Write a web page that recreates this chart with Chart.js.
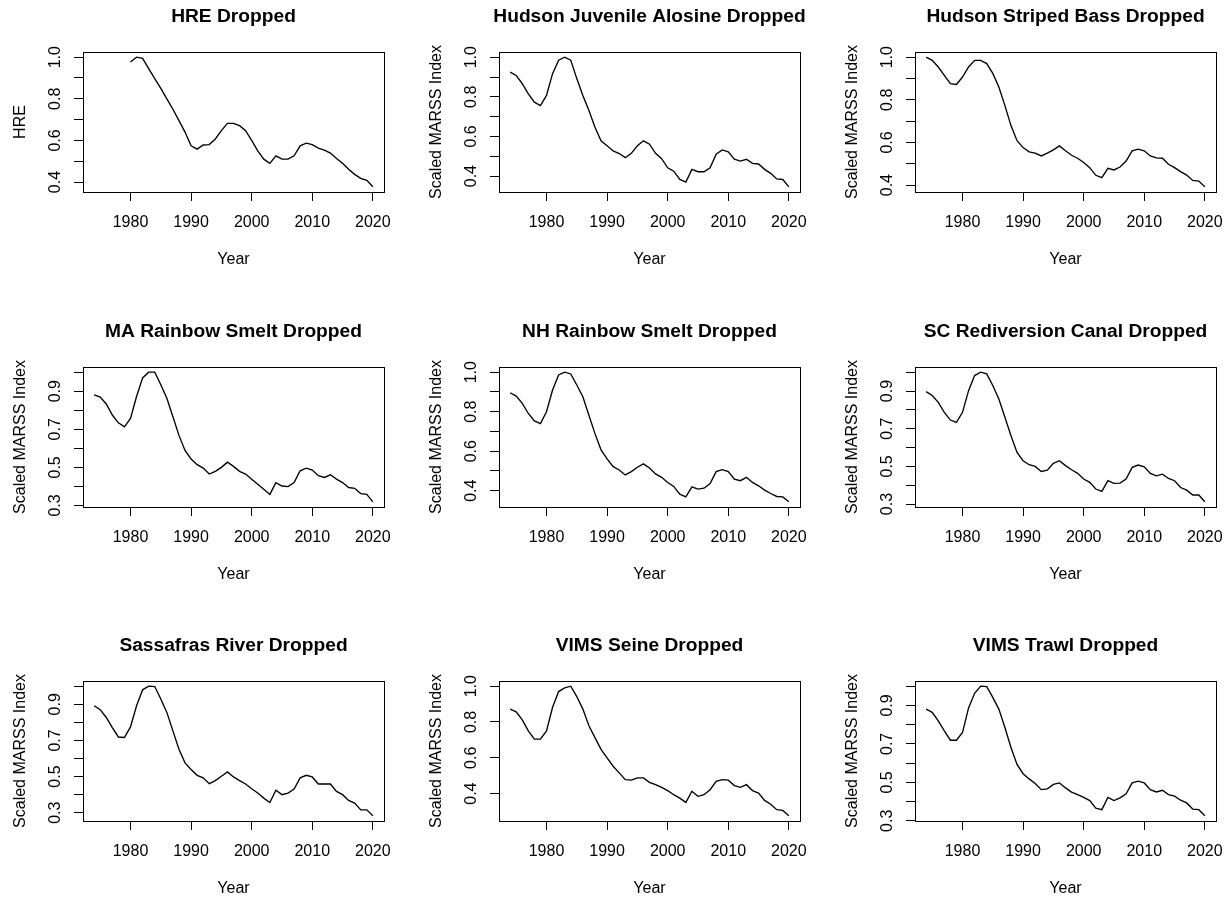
<!DOCTYPE html>
<html>
<head>
<meta charset="utf-8">
<script src="https://cdn.jsdelivr.net/npm/chart.js@4.4.1/dist/chart.umd.min.js"></script>
<style>
html,body{margin:0;padding:0;background:#fff;overflow:hidden;width:1228px;height:898px;position:relative;}
canvas{position:absolute;}
</style>
</head>
<body>
<script>
// ---------- data ----------
const years = [1974,1975,1976,1977,1978,1979,1980,1981,1982,1983,1984,1985,1986,1987,1988,1989,1990,1991,1992,1993,1994,1995,1996,1997,1998,1999,2000,2001,2002,2003,2004,2005,2006,2007,2008,2009,2010,2011,2012,2013,2014,2015,2016,2017,2018,2019,2020];

const hre = [null,null,null,null,null,null,0.977,1.0,0.994,0.945,
  0.897,0.85,0.80,0.75,0.695,0.64,0.574,0.558,0.578,0.58,
  0.607,0.647,0.682,0.682,0.671,0.647,0.60,0.55,0.51,0.49,
  0.526,0.51,0.51,0.526,0.574,0.587,0.58,0.563,0.553,0.539,
  0.513,0.49,0.461,0.437,0.418,0.408,0.377];

const alosine = [0.925,0.908,0.866,0.815,0.773,0.756,0.807,0.917,0.985,1.0,
  0.985,0.892,0.807,0.731,0.646,0.578,0.553,0.527,0.514,0.493,
  0.515,0.553,0.578,0.561,0.515,0.488,0.442,0.425,0.383,0.37,
  0.434,0.422,0.422,0.442,0.51,0.532,0.522,0.485,0.476,0.485,
  0.464,0.461,0.434,0.414,0.386,0.383,0.346];

const stripedBass = [1.0,0.985,0.954,0.915,0.876,0.872,0.907,0.954,0.985,0.985,
  0.97,0.924,0.86,0.773,0.679,0.608,0.576,0.556,0.55,0.537,
  0.55,0.565,0.584,0.561,0.54,0.526,0.506,0.482,0.446,0.435,
  0.479,0.471,0.485,0.513,0.561,0.569,0.561,0.537,0.528,0.526,
  0.498,0.482,0.463,0.447,0.422,0.419,0.392];

const maSmelt = [0.881,0.869,0.833,0.775,0.734,0.713,0.757,0.872,0.97,1.0,
  1.0,0.934,0.863,0.766,0.668,0.589,0.544,0.514,0.496,0.465,
  0.479,0.5,0.527,0.505,0.479,0.465,0.438,0.411,0.385,0.358,
  0.42,0.402,0.399,0.42,0.482,0.496,0.486,0.456,0.447,0.461,
  0.438,0.42,0.394,0.39,0.362,0.358,0.319];

const nhSmelt = [0.896,0.879,0.842,0.791,0.753,0.74,0.8,0.91,0.986,1.0,
  0.991,0.935,0.876,0.782,0.689,0.607,0.561,0.522,0.505,0.48,
  0.497,0.519,0.536,0.515,0.485,0.468,0.442,0.422,0.383,0.369,
  0.42,0.408,0.413,0.437,0.497,0.507,0.497,0.459,0.451,0.468,
  0.442,0.425,0.403,0.386,0.371,0.369,0.344];

const scCanal = [0.897,0.876,0.84,0.787,0.746,0.734,0.787,0.902,0.982,1.0,
  0.991,0.929,0.858,0.761,0.663,0.574,0.53,0.509,0.5,0.473,
  0.48,0.516,0.53,0.504,0.482,0.463,0.433,0.415,0.38,0.367,
  0.424,0.41,0.411,0.433,0.495,0.507,0.498,0.463,0.45,0.459,
  0.436,0.424,0.388,0.374,0.348,0.348,0.312];

const sassafras = [0.892,0.87,0.827,0.771,0.719,0.716,0.775,0.892,0.98,1.0,
  0.998,0.929,0.855,0.753,0.651,0.576,0.539,0.507,0.493,0.461,
  0.478,0.502,0.526,0.498,0.478,0.459,0.433,0.409,0.381,0.357,
  0.424,0.4,0.409,0.431,0.493,0.507,0.498,0.459,0.459,0.459,
  0.418,0.4,0.368,0.353,0.316,0.316,0.283];

const vimsSeine = [0.872,0.857,0.812,0.75,0.704,0.704,0.75,0.882,0.97,0.99,
  1.0,0.942,0.872,0.779,0.713,0.647,0.6,0.553,0.516,0.478,
  0.475,0.488,0.488,0.463,0.45,0.435,0.417,0.394,0.375,0.351,
  0.413,0.385,0.394,0.422,0.469,0.478,0.475,0.445,0.435,0.45,
  0.417,0.403,0.362,0.341,0.31,0.306,0.276];

const vimsTrawl = [0.881,0.864,0.82,0.768,0.719,0.719,0.759,0.887,0.963,1.0,
  0.998,0.942,0.881,0.785,0.681,0.593,0.545,0.518,0.494,0.462,
  0.466,0.489,0.497,0.471,0.449,0.436,0.422,0.405,0.366,0.358,
  0.422,0.405,0.419,0.44,0.497,0.506,0.497,0.462,0.45,0.459,
  0.436,0.428,0.407,0.393,0.361,0.358,0.326];

// ---------- tick labels ----------
const xTicks = [1980,1990,2000,2010,2020];
const yTicksA = [0.4,0.5,0.6,0.7,0.8,0.9,1.0];
const yLabelsA = [0.4,0.6,0.8,1.0];
const yTicksB = [0.3,0.4,0.5,0.6,0.7,0.8,0.9,1.0];
const yLabelsB = [0.3,0.5,0.7,0.9];
const yTicksC = [0.4,0.6,0.8,1.0];
const yLabelsC = [0.4,0.6,0.8,1.0];

const titles = ["HRE Dropped","Hudson Juvenile Alosine Dropped","Hudson Striped Bass Dropped",
  "MA Rainbow Smelt Dropped","NH Rainbow Smelt Dropped","SC Rediversion Canal Dropped",
  "Sassafras River Dropped","VIMS Seine Dropped","VIMS Trawl Dropped"];
const yTitles = ["HRE","Scaled MARSS Index","Scaled MARSS Index","Scaled MARSS Index","Scaled MARSS Index",
  "Scaled MARSS Index","Scaled MARSS Index","Scaled MARSS Index","Scaled MARSS Index"];
const xTitle = "Year";
const seriesList = [hre, alosine, stripedBass, maSmelt, nhSmelt, scCanal, sassafras, vimsSeine, vimsTrawl];
const tickSets = [yTicksA, yTicksA, yTicksA, yTicksB, yTicksA, yTicksB, yTicksB, yTicksC, yTicksB];
const labelSets = [yLabelsA, yLabelsA, yLabelsA, yLabelsB, yLabelsA, yLabelsB, yLabelsB, yLabelsC, yLabelsB];

// ---------- layout ----------
const FONT = "'Liberation Sans', Arial, Helvetica, sans-serif";
Chart.defaults.font.family = FONT;
Chart.defaults.color = '#000';

const colLeft = [0, 416, 832];
const rowTop = [0, 315, 629];
const CW = 467, CH = 270;

const boxPlugin = {
  id: 'rbox',
  afterLayout(chart) {
    // let the rotated y title extend past the plot height (as R does)
    const y = chart.scales.y;
    y.top -= 40; y.bottom += 40;
    // center the main title over the plot box, without squeezing it
    const a = chart.chartArea, t = chart.titleBlock;
    if (t) { t.left = a.left - 80; t.right = a.right + 80; }
  },
  afterDraw(chart) {
    const {ctx, chartArea: a} = chart;
    ctx.save();
    ctx.strokeStyle = '#000';
    ctx.lineWidth = 1;
    const l = Math.round(a.left) + 0.5, t = Math.round(a.top) + 0.5;
    const r = Math.round(a.right) + 0.5, b = Math.round(a.bottom) + 0.5;
    ctx.strokeRect(l, t, r - l, b - t);
    ctx.restore();
  }
};

function isLabel(list, v) { return list.some(l => Math.abs(l - v) < 1e-9); }

for (let i = 0; i < 9; i++) {
  const cv = document.createElement('canvas');
  cv.width = CW; cv.height = CH;
  cv.style.left = colLeft[i % 3] + 'px';
  cv.style.top = rowTop[Math.floor(i / 3)] + 'px';
  cv.style.width = CW + 'px'; cv.style.height = CH + 'px';
  document.body.appendChild(cv);

  const s = seriesList[i];
  const vals = s.filter(v => v !== null);
  const mn = Math.min(...vals), mx = Math.max(...vals);
  const ylo = mn - 0.04 * (mx - mn), yhi = mx + 0.04 * (mx - mn);
  const x0 = years[0], x1 = years[years.length - 1];
  const xlo = x0 - 0.04 * (x1 - x0), xhi = x1 + 0.04 * (x1 - x0);
  const yt = tickSets[i].filter(v => v >= ylo - 1e-9 && v <= yhi + 1e-9);
  const yl = labelSets[i];

  new Chart(cv, {
    type: 'line',
    data: {
      datasets: [{
        data: years.map((yr, k) => ({x: yr, y: s[k]})),
        borderColor: '#000',
        borderWidth: 1.35,
        pointRadius: 0,
        pointHoverRadius: 0,
        fill: false,
        tension: 0,
        spanGaps: false
      }]
    },
    options: {
      responsive: false,
      animation: false,
      devicePixelRatio: 1,
      events: [],
      layout: {padding: {left: 0, right: 83, top: 0, bottom: 0}},
      plugins: {
        legend: {display: false},
        tooltip: {enabled: false},
        title: {
          display: true, text: titles[i], color: '#000', fullSize: false,
          font: {size: 19.2, weight: 'bold', family: FONT},
          padding: {top: 5.5, bottom: 23.46}
        }
      },
      scales: {
        x: {
          type: 'linear', position: 'bottom', min: xlo, max: xhi,
          afterFit(sc) { sc.height = 78; },
          afterBuildTicks(sc) { sc.ticks = xTicks.map(v => ({value: v})); },
          ticks: {autoSkip: false, minRotation: 0, maxRotation: 0, padding: 12, color: '#000',
                  font: {size: 16, family: FONT}, callback: v => String(v)},
          grid: {drawOnChartArea: false, drawTicks: true, tickLength: 9, color: '#000', lineWidth: 1},
          border: {display: false},
          title: {display: true, text: xTitle, color: '#000', font: {size: 16, family: FONT},
                  padding: {top: 0, bottom: 0.5}}
        },
        y: {
          type: 'linear', position: 'left', min: ylo, max: yhi,
          afterFit(sc) { sc.width = 83; },
          afterBuildTicks(sc) { sc.ticks = yt.map(v => ({value: v})); },
          ticks: {autoSkip: false, minRotation: 90, maxRotation: 90, crossAlign: 'center', padding: 7.4,
                  color: '#000', font: {size: 16, family: FONT},
                  callback: v => isLabel(yl, v) ? v.toFixed(1) : ''},
          grid: {drawOnChartArea: false, drawTicks: true, tickLength: 9, color: '#000', lineWidth: 1},
          border: {display: false},
          title: {display: true, text: yTitles[i], color: '#000', font: {size: 16, family: FONT},
                  padding: {top: 11, bottom: 0}}
        }
      }
    },
    plugins: [boxPlugin]
  });
}
</script>
</body>
</html>
